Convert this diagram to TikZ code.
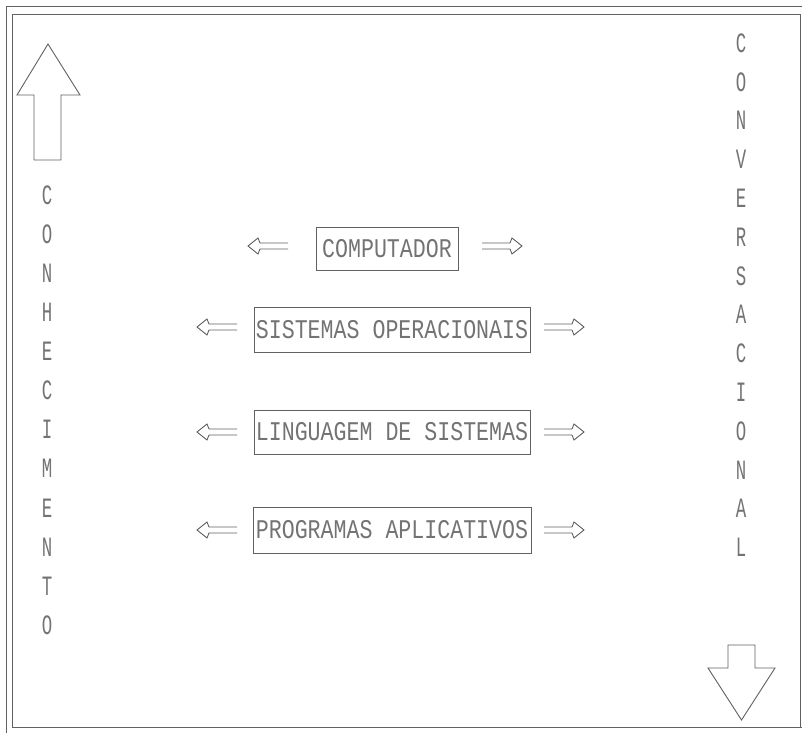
\documentclass[tikz,border=0pt]{standalone}
\usepackage{fontspec}
\newfontfamily\dotfont[FakeStretch=0.8]{Liberation Mono}
\newfontfamily\colfont[FakeStretch=0.62]{Liberation Mono}
\begin{document}
\begin{tikzpicture}[x=1pt,y=-1pt,
  ink/.style={draw=black!62,line width=0.9pt},
  label/.style={ink,inner sep=0pt,font=\dotfont\fontsize{27}{27}\selectfont,text=black!55},
  colletter/.style={inner sep=0pt,font=\colfont\fontsize{28}{28}\selectfont,text=black!55},
  pics/leftdbl/.style={code={
    \draw[ink] (40,-3) -- (12,-3) -- (10,-8) -- (0,0) -- (10,8) -- (12,3) -- (40,3);}},
  pics/rightdbl/.style={code={
    \draw[ink] (-40,-3) -- (-12,-3) -- (-10,-8) -- (0,0) -- (-10,8) -- (-12,3) -- (-40,3);}}
]
\useasboundingbox (0,0) rectangle (802,733);
\fill[white] (0,0) rectangle (802,733);

% double frame
\draw[ink] (6,733) -- (6,6) -- (802,6);
\draw[ink] (12,14) rectangle (800,727);
\draw[ink] (800,727) -- (802,727);

% hollow arrow pointing up (left column)
\draw[ink] (48,44) -- (80,95) -- (61,95) -- (61,160) -- (34,160) -- (34,95) -- (17,95) -- cycle;
% hollow arrow pointing down (right column)
\draw[ink] (741.5,720) -- (775,668) -- (755,668) -- (755,645) -- (728,645) -- (728,668) -- (708,668) -- cycle;

% vertical words
\foreach \ch [count=\i] in {C,O,N,H,E,C,I,M,E,N,T,O}
  \node[colletter] (l\i) at (47,{195+(\i-1)*39.1}) {\ch};
\foreach \ch [count=\i] in {C,O,N,V,E,R,S,A,C,I,O,N,A,L}
  \node[colletter] (r\i) at (741,{43+(\i-1)*38.8}) {\ch};

% layered boxes
\node[label,minimum width=142pt,minimum height=43pt] (b1) at (387,248.5) {COMPUTADOR};
\node[label,minimum width=276pt,minimum height=45pt] (b2) at (392,329.5) {SISTEMAS OPERACIONAIS};
\node[label,minimum width=276pt,minimum height=44pt] (b3) at (392,432) {LINGUAGEM DE SISTEMAS};
\node[label,minimum width=278pt,minimum height=46pt] (b4) at (392,530) {PROGRAMAS APLICATIVOS};

% side arrows
\pic at (248,246) {leftdbl};
\pic at (522,246) {rightdbl};
\foreach \y in {327,432,530} {
  \pic at (197,\y) {leftdbl};
  \pic at (584,\y) {rightdbl};
}
\end{tikzpicture}
\end{document}
